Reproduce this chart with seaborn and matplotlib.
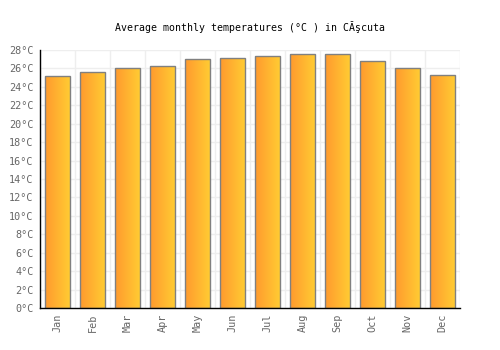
import matplotlib
matplotlib.use("Agg")
import matplotlib.pyplot as plt
import numpy as np
import pandas as pd
import seaborn as sns
from matplotlib.colors import LinearSegmentedColormap

months = ["Jan", "Feb", "Mar", "Apr", "May", "Jun", "Jul", "Aug", "Sep", "Oct", "Nov", "Dec"]
temps = [25.2, 25.6, 26.1, 26.3, 27.0, 27.1, 27.3, 27.6, 27.6, 26.8, 26.1, 25.3]
yticks = list(range(0, 29, 2))
title = "Average monthly temperatures (°C ) in CĂşcuta"

sns.set_style("white")
plt.rcParams['font.family'] = ['DejaVu Sans Mono', 'DejaVu Sans']

df = pd.DataFrame({"month": months, "temp": temps})

fig = plt.figure(figsize=(5, 3.5), dpi=100)
ax = fig.add_axes([0.08, 0.12, 0.84, 0.737])

sns.barplot(data=df, x="month", y="temp", ax=ax, width=0.69,
            color="#ffb030", edgecolor="#808080", linewidth=1.0, zorder=3)

cmap = LinearSegmentedColormap.from_list("g", ["#ff9a2e", "#ffcb33"])
grad = np.linspace(0, 1, 64).reshape(1, -1)
for p in ax.patches:
    x0, y0 = p.get_x(), p.get_y()
    w, h = p.get_width(), p.get_height()
    im = ax.imshow(grad, cmap=cmap, aspect="auto", extent=[x0, x0 + w, y0, y0 + h],
                   zorder=3.5, interpolation="bilinear")
    im.set_clip_path(p)
    p.set_zorder(4)
    p.set_facecolor("none")

ax.set_xlim(-0.5, 11.5)
ax.set_ylim(0, 28)
ax.set_yticks(yticks)
ax.set_yticklabels([f"{t}°C" for t in yticks])
ax.set_xticks(range(len(months)))
ax.set_xticklabels(months, rotation=90)
ax.set_xticks(np.arange(-0.5, 12, 1), minor=True)
ax.grid(False)
ax.grid(True, which="minor", axis="x", color="#eeeeee", linewidth=1, zorder=0)
ax.grid(True, which="major", axis="y", color="#eeeeee", linewidth=1, zorder=0)
ax.tick_params(axis="both", which="both", length=0, labelsize=7.3, colors="#666666")
ax.tick_params(axis="y", pad=4.5)
ax.tick_params(axis="x", pad=4)
for s in ["top", "right"]:
    ax.spines[s].set_visible(False)
for s in ["left", "bottom"]:
    ax.spines[s].set_color("black")
    ax.spines[s].set_linewidth(1)
    ax.spines[s].set_zorder(5)
ax.set_xlabel("")
ax.set_ylabel("")
ax.set_title(title, fontsize=7.1, color="black", pad=14)

fig.savefig("out.png", dpi=100, facecolor="white")
